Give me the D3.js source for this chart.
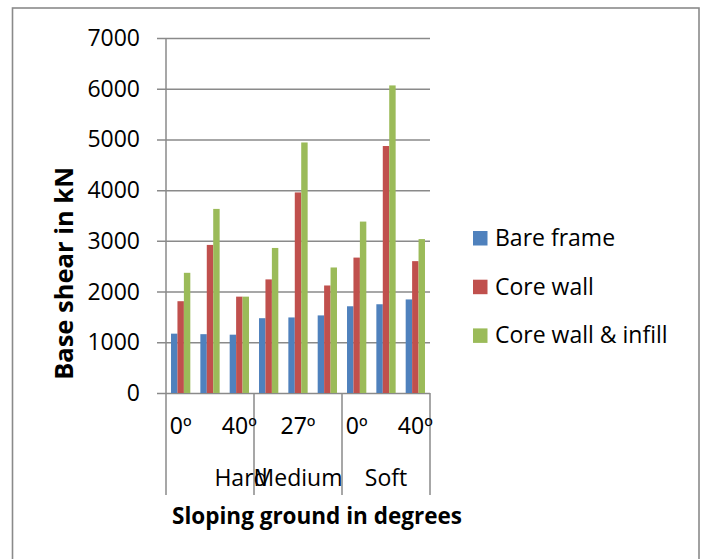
<!DOCTYPE html>
<html>
<head>
<meta charset="utf-8">
<script src="https://cdn.jsdelivr.net/npm/d3@7"></script>
<style>
  html, body { margin: 0; padding: 0; background: #fff; }
  svg { display: block; font-family: "Open Sans", sans-serif; }
</style>
</head>
<body>
<svg id="chart" width="703" height="559"></svg>
<script>
// Base shear by soil type and slope angle
const soils = ["Hard", "Medium", "Soft"];
const slopes = ["0º", "27º", "40º"];
const seriesNames = ["Bare frame", "Core wall", "Core wall & infill"];
const seriesColors = ["#4F81BD", "#C0504D", "#9BBB59"];

// values in kN, ordered Hard 0/27/40, Medium 0/27/40, Soft 0/27/40
const bareFrame = [1170, 1160, 1150, 1475, 1490, 1530, 1710, 1750, 1845];
const coreWall = [1810, 2920, 1900, 2240, 3955, 2120, 2670, 4870, 2600];
const coreWallInfill = [2370, 3630, 1900, 2860, 4940, 2475, 3380, 6065, 3035];

const yTicks = [0, 1000, 2000, 3000, 4000, 5000, 6000, 7000];

const seriesValues = [bareFrame, coreWall, coreWallInfill];
const categories = [];
soils.forEach(s => slopes.forEach(a => categories.push({ soil: s, slope: a })));
const rows = categories.map((c, i) => ({
  i, soil: c.soil, slope: c.slope,
  values: seriesNames.map((n, k) => ({ name: n, k, v: seriesValues[k][i] }))
}));

const svg = d3.select("#chart");
const plotLeft = 166, plotRight = 430, plotTop = 38, zeroY = 393, axisBottom = 495;

// outer chart border
svg.append("rect")
  .attr("x", 12.5).attr("y", 8).attr("width", 686.5).attr("height", 600)
  .attr("fill", "none").attr("stroke", "#8a8a8a").attr("stroke-width", 1.6);

const x = d3.scaleBand().domain(d3.range(categories.length)).range([plotLeft, plotRight]).padding(0);
const xs = d3.scaleBand().domain(d3.range(seriesNames.length)).range([0, x.bandwidth()])
  .paddingInner(0).paddingOuter(0.78);
const y = d3.scaleLinear().domain([0, 7000]).range([zeroY, plotTop]);

// horizontal gridlines with outward ticks
const yAxis = d3.axisLeft(y).tickValues(yTicks).tickSize(-(plotRight - plotLeft)).tickPadding(0).tickFormat("");
const gy = svg.append("g").attr("transform", `translate(${plotLeft},0)`).call(yAxis);
gy.select(".domain").remove();
gy.selectAll(".tick line").attr("x1", -9).attr("stroke", "#8a8a8a").attr("stroke-width", 1.5);

// y tick labels
svg.append("g").selectAll("text").data(yTicks).join("text")
  .attr("x", 140).attr("y", d => y(d) + 8)
  .attr("text-anchor", "end").attr("font-size", 23).attr("fill", "#000")
  .text(d => d);

// bars
const groups = svg.append("g").selectAll("g").data(rows).join("g")
  .attr("transform", d => `translate(${x(d.i)},0)`);
groups.selectAll("rect").data(d => d.values).join("rect")
  .attr("x", d => xs(d.k)).attr("width", xs.bandwidth())
  .attr("y", d => y(d.v)).attr("height", d => y(0) - y(d.v))
  .attr("fill", d => seriesColors[d.k]);

// value axis line
svg.append("line").attr("x1", plotLeft).attr("x2", plotLeft).attr("y1", plotTop).attr("y2", axisBottom)
  .attr("stroke", "#8a8a8a").attr("stroke-width", 1.5);

// category axis dividers between soil groups
const groupEdges = soils.map((s, gi) => x(gi * slopes.length + slopes.length - 1) + x.bandwidth());
svg.append("g").selectAll("line").data(groupEdges).join("line")
  .attr("x1", d => d).attr("x2", d => d).attr("y1", zeroY).attr("y2", axisBottom)
  .attr("stroke", "#8a8a8a").attr("stroke-width", 1.5);

// slope labels (every second category shown)
svg.append("g").selectAll("text").data(rows.filter(d => d.i % 2 === 0)).join("text")
  .attr("x", d => x(d.i) + x.bandwidth() / 2).attr("y", 434)
  .attr("text-anchor", "middle").attr("font-size", 23).attr("fill", "#000")
  .attr("font-family", "'Noto Sans', 'Open Sans', sans-serif")
  .text(d => d.slope);

// soil labels
const soilShift = { Hard: 31, Medium: 0, Soft: 0 };
svg.append("g").selectAll("text").data(soils).join("text")
  .attr("x", (s, gi) => (x(gi * 3) + groupEdges[gi]) / 2 + soilShift[s]).attr("y", 486)
  .attr("text-anchor", "middle").attr("font-size", 23).attr("fill", "#000")
  .text(d => d);

// axis titles
svg.append("text").attr("x", 317).attr("y", 524).attr("text-anchor", "middle")
  .attr("font-size", 22.5).attr("font-weight", "bold").text("Sloping ground in degrees");
svg.append("text").attr("transform", "translate(73,273.5) rotate(-90)").attr("text-anchor", "middle")
  .attr("font-size", 25.5).attr("font-weight", "bold").text("Base shear in kN");

// legend
const legend = svg.append("g").selectAll("g").data(seriesNames).join("g")
  .attr("transform", (d, i) => `translate(473,${231 + i * 48.7})`);
legend.append("rect").attr("width", 14.5).attr("height", 14.5).attr("fill", (d, i) => seriesColors[i]);
legend.append("text").attr("x", 22).attr("y", 15).attr("font-size", 23).attr("fill", "#000").text(d => d);
</script>
</body>
</html>
